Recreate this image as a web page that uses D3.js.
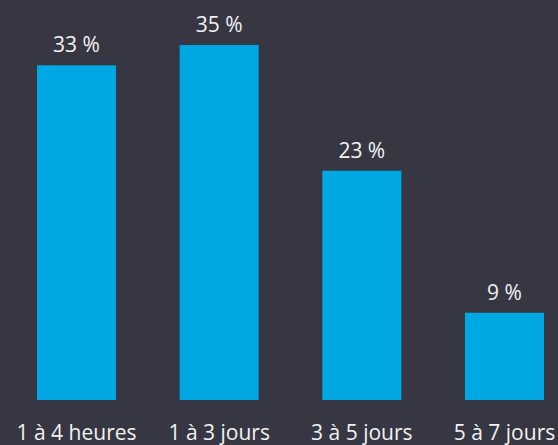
<!DOCTYPE html>
<html>
<head>
<meta charset="utf-8">
<script src="https://cdn.jsdelivr.net/npm/d3@7"></script>
<style>
  html, body { margin: 0; padding: 0; background: #363742; }
  svg { display: block; }
  text { font-family: "Open Sans", sans-serif; fill: #f2f2f2; }
</style>
</head>
<body>
<svg id="canvas" width="558" height="445"></svg>
<script>
const categories = ["1 à 4 heures", "1 à 3 jours", "3 à 5 jours", "5 à 7 jours"];
const values = [33, 35, 22.6, 8.6];
const valueLabels = ["33 %", "35 %", "23 %", "9 %"];

const width = 558,
  height = 445;
const baseline = 400;
const svg = d3.select("#canvas");

svg
  .append("rect")
  .attr("width", width)
  .attr("height", height)
  .attr("fill", "#363742");

const x = d3
  .scaleBand()
  .domain(categories)
  .range([37, 544])
  .paddingInner(0.446)
  .paddingOuter(0);

const y = d3.scaleLinear().domain([0, 35]).range([baseline, 45]);

svg
  .selectAll("rect.bar")
  .data(values)
  .enter()
  .append("rect")
  .attr("class", "bar")
  .attr("x", (d, i) => x(categories[i]))
  .attr("y", (d) => y(d))
  .attr("width", x.bandwidth())
  .attr("height", (d) => baseline - y(d))
  .attr("fill", "#00a8e3");

svg
  .selectAll("text.value")
  .data(values)
  .enter()
  .append("text")
  .attr("class", "value")
  .attr("x", (d, i) => x(categories[i]) + x.bandwidth() / 2)
  .attr("y", (d) => y(d) - 13)
  .attr("text-anchor", "middle")
  .style("font-size", "21px")
  .text((d, i) => valueLabels[i]);

const axis = d3.axisBottom(x).tickSize(0).tickPadding(0);
const gAxis = svg.append("g").attr("transform", `translate(0, ${baseline})`).call(axis);
gAxis.select(".domain").remove();
gAxis
  .selectAll("text")
  .attr("dy", null)
  .attr("y", 40)
  .style("font-size", "21px")
  .attr("fill", "#f2f2f2");
</script>
</body>
</html>
